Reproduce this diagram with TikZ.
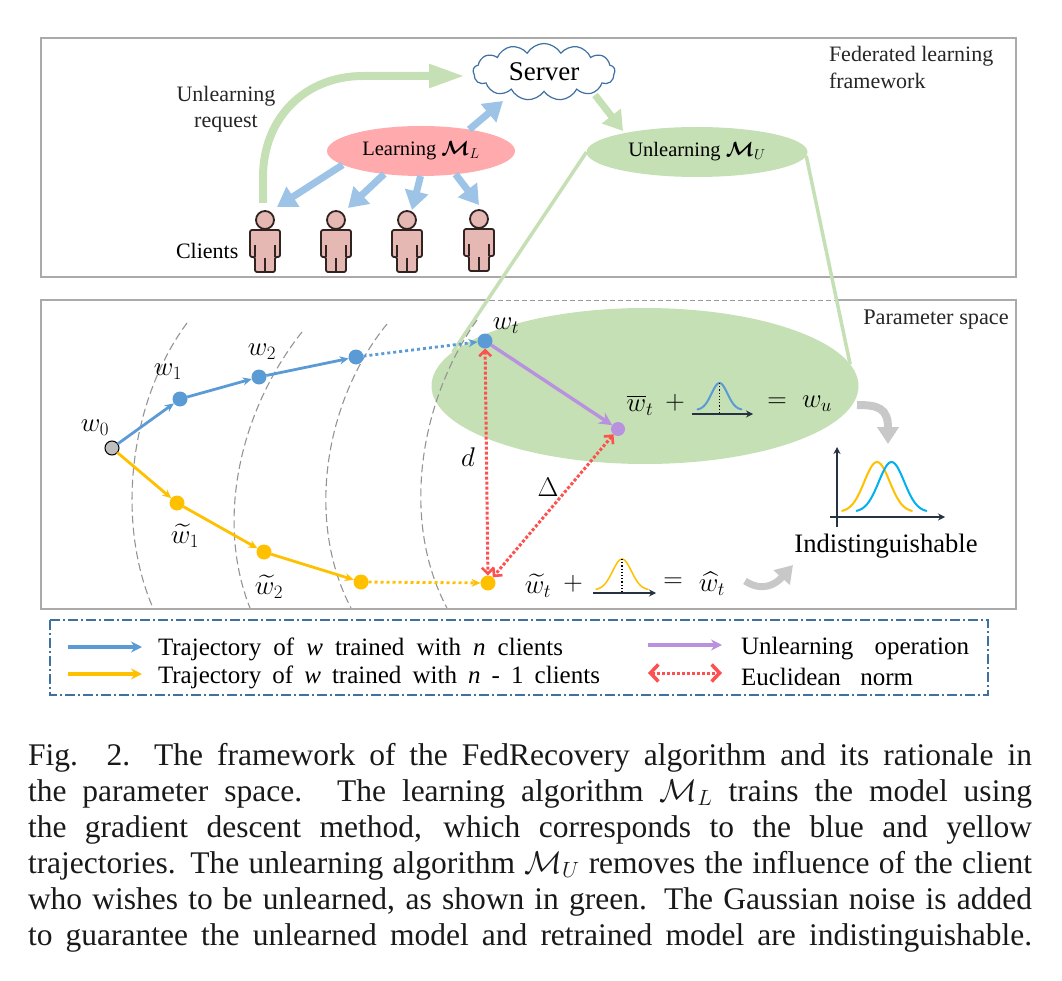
\documentclass[tikz,border=0pt]{standalone}
\usepackage{fix-cm}
\usepackage{amsmath}
\usepackage{amssymb}
\usepackage{bm}
\usepackage{xcolor}
\usepackage{fontspec}
\setmainfont{Liberation Serif}
\usetikzlibrary{arrows.meta,shapes.geometric,shapes.symbols}

\definecolor{framegray}{RGB}{170,170,170}
\definecolor{softgreen}{RGB}{197,224,180}
\definecolor{softblue}{RGB}{157,195,230}
\definecolor{softpink}{RGB}{255,171,173}
\definecolor{softgray}{RGB}{200,200,200}
\definecolor{skin}{RGB}{230,184,180}
\definecolor{linedark}{RGB}{50,35,35}
\definecolor{cloudblue}{RGB}{62,112,160}
\definecolor{pathblue}{RGB}{91,155,213}
\definecolor{pathyellow}{RGB}{255,192,0}
\definecolor{pathpurple}{RGB}{184,146,222}
\definecolor{normred}{RGB}{255,80,80}
\definecolor{axisdark}{RGB}{38,50,66}
\definecolor{skyblue}{RGB}{0,176,240}

\newcommand{\figfont}[1]{\fontsize{#1}{#1}\selectfont}
\newcommand{\capline}[1]{\hbox to 1004pt{#1}}
% one bell curve: colour, centre x, base y, half width, height
\newcommand{\bell}[5]{\draw[line width=2pt,line cap=round,#1] plot[domain=-1:1,samples=41,smooth] ({#2+#4*\x},{#3-#5*exp(-3.8*\x*\x)});}

\tikzset{
	client/.pic={
		\fill[skin] (0,0) circle (9);
		\draw[linedark,line width=1.8pt] (0,0) circle (9);
		\draw[linedark,line width=1.8pt,fill=skin,rounded corners=2pt,line join=round]
			(-15,10) -- (15,10) -- (15,37) -- (10,37) -- (10,52) -- (-10,52)
			-- (-10,37) -- (-15,37) -- cycle;
		\draw[linedark,line width=1.8pt] (0,38) -- (0,52) (-10,25) -- (-10,37) (10,25) -- (10,37);
	}
}

\begin{document}
\begin{tikzpicture}[x=1pt,y=-1pt,font=\figfont{22},
		frame/.style={draw=framegray,line width=1.6pt},
		bigblue/.style={softblue,line width=7pt,-{Triangle[length=19pt,width=23pt]}},
		biggreen/.style={softgreen,line width=8pt,-{Triangle[length=36pt,width=22pt]}},
		biggray/.style={softgray,line width=8pt,-{Triangle[length=17pt,width=21pt]}},
		zoomline/.style={softgreen,line width=3.5pt},
		level/.style={black!42,line width=1.1pt,dash pattern=on 8pt off 4pt},
		bluepath/.style={pathblue,line width=2.8pt,-{Stealth[length=9pt,width=8pt]}},
		yellowpath/.style={pathyellow,line width=2.8pt,-{Stealth[length=9pt,width=8pt]}},
		purplepath/.style={pathpurple,line width=3.4pt,-{Stealth[length=13pt,width=13pt]}},
		dots/.style={dash pattern=on 3pt off 3pt},
		normline/.style={normred,line width=3pt,dash pattern=on 3pt off 2pt,{Straight Barb[length=6pt,width=12pt,line width=2.6pt]}-{Straight Barb[length=6pt,width=12pt,line width=2.6pt]}},
		axisline/.style={axisdark,line width=1.6pt,-{Stealth[length=7pt,width=7pt]}}]
	\tikzstyle{every node}=[inner sep=0pt,outer sep=0pt]
	\tikzstyle{dot}=[circle,minimum size=15pt,fill=pathblue]
	\tikzstyle{math}=[font=\figfont{27}]
	\tikzstyle{key}=[anchor=west,font=\figfont{25}]

	\useasboundingbox (0,0) rectangle (1062,981);

	% the two panels
	\draw[frame] (41,38) rectangle (1016,277);
	\draw[frame] (41,300) rectangle (1016,609);
	\draw[white,line width=2.5pt] (490,300) -- (836,300);
	\draw[gray!80,line width=0.8pt,dash pattern=on 5pt off 3pt] (490,300) -- (836,300);

	% top panel
	\node[ellipse,fill=softgreen,minimum width=427pt,minimum height=156pt]	(zoom) at (645,386) {};
	\node[ellipse,fill=softpink,minimum width=188pt,minimum height=50pt,font=\figfont{20.5}]	(learn) at (421,151) {Learning $\bm{\mathcal{M}}_L$};
	\node[ellipse,fill=softgreen,minimum width=221pt,minimum height=50pt,font=\figfont{20.5}]	(unlearn) at (697,152) {Unlearning $\bm{\mathcal{M}}_U$};
	\node[cloud,cloud puffs=13,cloud puff arc=120,cloud ignores aspect,draw=cloudblue,line width=1.2pt,fill=white,
		minimum width=142pt,minimum height=57pt,font=\figfont{27}]	(server) at (544,72) {Server};

	\node[align=center,text=black!85]	(request) at (226,109) {Unlearning\\[4pt]request};
	\node[anchor=west]	(clients) at (176,251) {Clients};
	\node[anchor=west,align=left,text=black!85]	(fl) at (829,67) {Federated learning\\[5pt]framework};
	\node[font=\figfont{22.3},text=black!85]	(ps) at (936,320) {Parameter space};

	\pic at (265,220) {client};
	\pic at (336,220) {client};
	\pic at (407,220) {client};
	\pic at (479,219) {client};

	\coordinate (reqa) at (263,203);
	\coordinate (reqb) at (465,76);
	\coordinate (srvin) at (503,101);
	\coordinate (srvout) at (595,95);
	\coordinate (ulin) at (623,131);
	\coordinate (c1) at (277,207);
	\coordinate (c2) at (348,208);
	\coordinate (c3) at (412,210);
	\coordinate (c4) at (479,205);

	\draw[biggreen] (reqa) -- (263,177) .. controls (263,118) and (305,76) .. (363,76) -- (reqb);
	\path
		(learn.24)	edge[bigblue]	(srvin)
		(learn.190)	edge[bigblue]	(c1)
		(learn.212)	edge[bigblue]	(c2)
		(learn.269)	edge[bigblue]	(c3)
		(learn.326)	edge[bigblue]	(c4)
		(srvout)	edge[softgreen,line width=7pt,-{Triangle[length=19pt,width=23pt]}]	(ulin);

	\path
		(unlearn.180)	edge[zoomline]	(zoom.170)
		(unlearn.358)	edge[zoomline]	(zoom.6);

	% levels of the loss
	\draw[level] (187,323) .. controls (130,400) and (115,520) .. (153,608);
	\draw[level] (302,332) .. controls (240,410) and (215,520) .. (250,608);
	\draw[level] (387,324) .. controls (325,400) and (305,520) .. (351,608);
	\draw[level] (477,320) .. controls (420,400) and (400,520) .. (447,608);

	% bottom panel, trajectories
	\node[dot,minimum size=14pt,fill=black!25,draw=black,line width=1pt]	(w0) at (112,448) {};
	\node[dot]	(b1) at (180,399) {};
	\node[dot]	(b2) at (259,377) {};
	\node[dot]	(b3) at (356,357) {};
	\node[dot]	(bt) at (485,341) {};
	\node[dot,fill=pathyellow]	(y1) at (177,503) {};
	\node[dot,fill=pathyellow]	(y2) at (264,552) {};
	\node[dot,fill=pathyellow]	(y3) at (361,582) {};
	\node[dot,fill=pathyellow]	(yt) at (488,583) {};
	\node[dot,minimum size=14pt,fill=pathpurple]	(pt) at (618,429) {};

	\path
		(w0) edge[bluepath]	(b1)
		(b1) edge[bluepath]	(b2)
		(b2) edge[bluepath]	(b3)
		(b3) edge[bluepath,dots]	(bt)
		(w0) edge[yellowpath]	(y1)
		(y1) edge[yellowpath]	(y2)
		(y2) edge[yellowpath]	(y3)
		(y3) edge[yellowpath,dots]	(yt)
		(bt) edge[purplepath]	(pt)
		(bt) edge[normline]	(yt)
		(pt) edge[normline]	(yt);

	\node[math]	(l0) at (95,428) {$w_0$};
	\node[math]	(l1) at (168,372) {$w_1$};
	\node[math]	(l2) at (262,352) {$w_2$};
	\node[math]	(lt) at (506,326) {$w_t$};
	\node[math]	(l3) at (185,536) {$\widetilde{w}_1$};
	\node[math]	(l4) at (269,587) {$\widetilde{w}_2$};
	\node[math]	(ld) at (468,457) {$d$};
	\node[math]	(lD) at (548,487) {$\Delta$};

	% formula inside the green ellipse
	\node[math]	(f1) at (640,405) {$\overline{w}_t$};
	\node[math]	(f2) at (675,403) {$+$};
	\node[math]	(f3) at (777,403) {$=$};
	\node[math]	(f4) at (817,404) {$w_u$};
	\coordinate (a1) at (692,414);
	\coordinate (a2) at (753,414);
	\draw[axisline] (a1) -- (a2);
	\bell{pathblue}{719.5}{410}{22}{27}
	\draw[black,line width=1.2pt,dotted] (719.5,383) -- (719.5,414);

	% formula at the end of the yellow path
	\node[math]	(g1) at (538,586) {$\widetilde{w}_t$};
	\node[math]	(g2) at (573,584) {$+$};
	\node[math]	(g3) at (673,583) {$=$};
	\node[math]	(g4) at (712,584) {$\widehat{w}_t$};
	\coordinate (a3) at (593,593);
	\coordinate (a4) at (656,593);
	\draw[axisline] (a3) -- (a4);
	\bell{pathyellow,line width=1.5pt}{622}{590}{26}{31}
	\draw[black,line width=1.2pt,dotted] (622,559) -- (622,593);

	% the two curves
	\coordinate (a5) at (837,527);
	\coordinate (a6) at (837,447);
	\coordinate (a7) at (830,517);
	\coordinate (a8) at (945,517);
	\draw[axisline] (a5) -- (a6);
	\draw[axisline] (a7) -- (a8);
	\bell{pathyellow}{877}{512}{35}{50}
	\bell{skyblue}{891.5}{512}{35}{50}
	\node[font=\figfont{26.6}]	(ind) at (886,546) {Indistinguishable};

	\coordinate (ga) at (857,405);
	\coordinate (gb) at (888,444);
	\coordinate (gc) at (745,581);
	\coordinate (gd) at (793,565);
	\draw[biggray] (ga) .. controls (878,405) and (888,408) .. (gb);
	\draw[biggray,line width=7pt] (gc) .. controls (762,592) and (775,585) .. (gd);

	% legend
	\draw[cloudblue,line width=1.3pt,dash pattern=on 10pt off 3pt on 2pt off 3pt] (50,620) rectangle (988,695);
	\coordinate (k1) at (68,647);
	\coordinate (k2) at (142,647);
	\coordinate (k3) at (68,674);
	\coordinate (k4) at (142,674);
	\coordinate (k5) at (648,645);
	\coordinate (k6) at (722,645);
	\coordinate (k7) at (648,673);
	\coordinate (k8) at (722,673);
	\path
		(k1) edge[pathblue,line width=3.4pt,-{Stealth[length=11pt,width=11pt]}]	(k2)
		(k3) edge[pathyellow,line width=3.4pt,-{Stealth[length=11pt,width=11pt]}]	(k4)
		(k5) edge[pathpurple,line width=3.4pt,-{Stealth[length=11pt,width=11pt]}]	(k6)
		(k7) edge[normline,{Straight Barb[length=8pt,width=17pt,line width=3.5pt]}-{Straight Barb[length=8pt,width=17pt,line width=3.5pt]}]	(k8);
	\node[key]	(t1) at (158,649) {\hbox to 405pt{Trajectory of \textit{w} trained with \textit{n} clients}};
	\node[key]	(t2) at (158,677) {\hbox to 442pt{Trajectory of \textit{w} trained with \textit{n} - 1 clients}};
	\node[key]	(t3) at (741,649) {\hbox to 228pt{Unlearning operation}};
	\node[key]	(t4) at (741,677) {\hbox to 172pt{Euclidean norm}};

	% caption
	\node[anchor=north west,font=\fontsize{31.5}{36}\selectfont,align=left,text=black!90] (caption) at (28,743) {%
		\capline{Fig. 2.\hspace{24pt}The framework of the FedRecovery algorithm and its rationale in}\\
		\capline{the parameter space. The learning algorithm $\mathcal{M}_L$ trains the model using}\\
		\capline{the gradient descent method, which corresponds to the blue and yellow}\\
		\capline{trajectories. The unlearning algorithm $\mathcal{M}_U$ removes the influence of the client}\\
		\capline{who wishes to be unlearned, as shown in green. The Gaussian noise is added}\\
		\capline{to guarantee the unlearned model and retrained model are indistinguishable.}};
\end{tikzpicture}
\end{document}
